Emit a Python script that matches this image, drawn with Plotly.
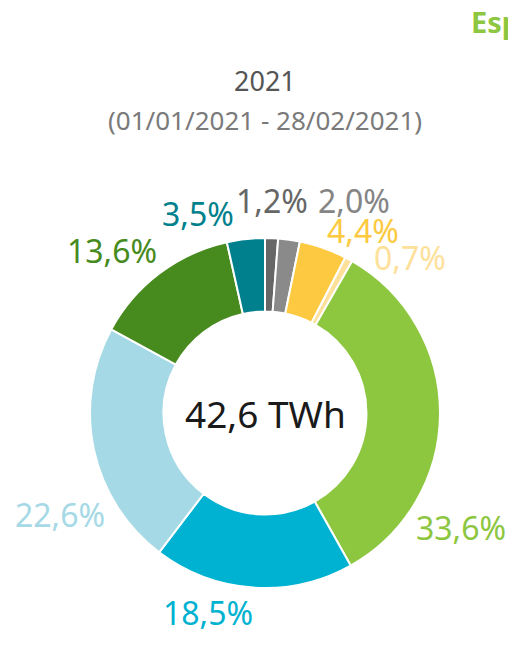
import plotly.graph_objects as go

W, H = 508, 672

# data (clockwise from 12 o'clock)
sources = ["Turbinación bombeo", "Ciclo combinado", "Cogeneración", "Residuos",
           "Eólica", "Nuclear", "Hidráulica", "Solar fotovoltaica", "Otras renovables"]
shares = [1.2, 2.0, 4.4, 0.7, 33.6, 18.5, 22.6, 13.6, 3.5]
share_labels = ["1,2%", "2,0%", "4,4%", "0,7%", "33,6%", "18,5%", "22,6%", "13,6%", "3,5%"]
total_label = "42,6 TWh"
title = "2021"
subtitle = "(01/01/2021 - 28/02/2021)"

colors = ["#666666", "#8a8a8a", "#fcc940", "#fde19a", "#8dc63f",
          "#00b2d1", "#a5d9e6", "#478a1e", "#007f8c"]
label_colors = ["#666666", "#858585", "#fcc940", "#fde19a", "#8dc63f",
                "#00b2d1", "#a5d9e6", "#478a1e", "#007f8c"]

# layout: donut centre/radius in px, label offsets from centre in px
cx, cy, r = 265, 413, 175
label_xy = [(7, -213), (89, -213), (98, -183), (145, -156), (196, 114),
            (-57, 199), (-205, 101), (-153, -163), (-67, -200)]

FONT = "Noto Sans"

def px(x, y):
    return x / W, 1 - y / H

fig = go.Figure(go.Pie(
    labels=sources,
    values=shares,
    hole=0.58,
    sort=False,
    direction="clockwise",
    rotation=0,
    marker=dict(colors=colors, line=dict(color="white", width=2)),
    textinfo="none",
    hoverinfo="label+percent",
    showlegend=False,
    domain=dict(x=[(cx - r) / W, (cx + r) / W],
                y=[1 - (cy + r) / H, 1 - (cy - r) / H]),
))

annotations = []
for txt, col, (dx, dy) in zip(share_labels, label_colors, label_xy):
    x, y = px(cx + dx, cy + dy)
    annotations.append(dict(text=txt, x=x, y=y, xref="paper", yref="paper",
                            xanchor="center", yanchor="middle", showarrow=False,
                            font=dict(family=FONT, size=32, color=col)))

x, y = px(cx, cy)
annotations.append(dict(text=total_label, x=x, y=y, xref="paper", yref="paper",
                        xanchor="center", yanchor="middle", showarrow=False,
                        font=dict(family=FONT, size=37, color="#1a1a1a")))
x, y = px(265, 80)
annotations.append(dict(text=title, x=x, y=y, xref="paper", yref="paper",
                        xanchor="center", yanchor="middle", showarrow=False,
                        font=dict(family=FONT, size=27, color="#555555")))
x, y = px(265, 120)
annotations.append(dict(text=subtitle, x=x, y=y, xref="paper", yref="paper",
                        xanchor="center", yanchor="middle", showarrow=False,
                        font=dict(family=FONT, size=26, color="#7a7a7a")))
x, y = px(469, 22)
annotations.append(dict(text="<b>España</b>", x=x, y=y, xref="paper", yref="paper",
                        xanchor="left", yanchor="middle", showarrow=False,
                        font=dict(family=FONT, size=29, color="#8dc63f")))

fig.update_layout(
    width=W, height=H,
    margin=dict(l=0, r=0, t=0, b=0),
    paper_bgcolor="white",
    plot_bgcolor="white",
    annotations=annotations,
)

# drop the browser's default body margin so the figure fills the window
fig.write_html("out.html", config={"displayModeBar": False},
               post_script="document.body.style.margin='0';")
